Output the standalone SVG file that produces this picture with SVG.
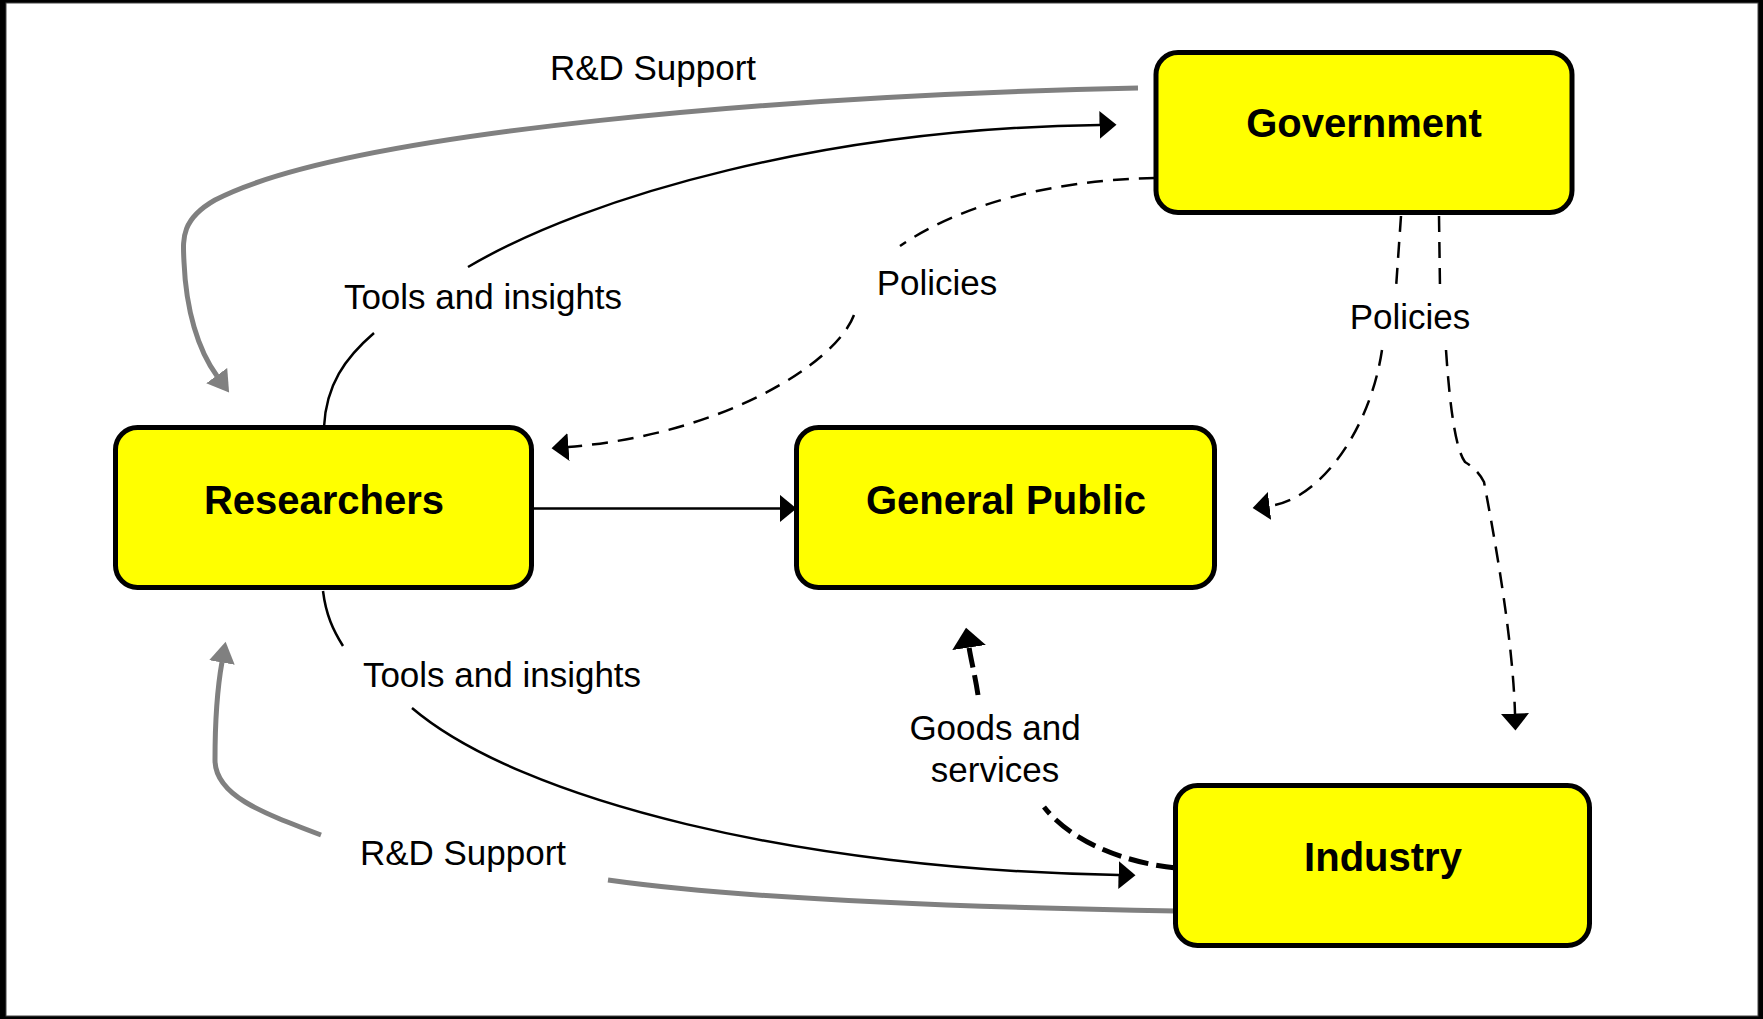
<svg xmlns="http://www.w3.org/2000/svg" width="1763" height="1019" viewBox="0 0 1763 1019">
<style>
.frame{fill:#ffffff;stroke:#444444;stroke-width:1}
.node rect{fill:#ffff00;stroke:#000000;stroke-width:5}
.nlbl{font-family:"Liberation Sans",Arial,Helvetica,sans-serif;font-size:40px;font-weight:bold;text-anchor:middle;fill:#000000}
.elbl{font-family:"Liberation Sans",Arial,Helvetica,sans-serif;font-size:35px;text-anchor:middle;fill:#000000}
.ln{fill:none;stroke:#000000;stroke-width:2.5}
.gr{fill:none;stroke:#808080;stroke-width:5}
.dsh{stroke-dasharray:16 10}
.thk{fill:none;stroke:#000000;stroke-width:5;stroke-dasharray:20 8}
</style>
<defs>
<marker id="arrB" markerUnits="userSpaceOnUse" markerWidth="18" markerHeight="28" viewBox="0 0 18 28" refX="0.5" refY="14" orient="auto"><path d="M0,0 L17,14 L0,28 z" fill="#000000"/></marker>
<marker id="arrG" markerUnits="userSpaceOnUse" markerWidth="22" markerHeight="26" viewBox="0 0 22 26" refX="0.5" refY="13" orient="auto"><path d="M0,0 L21,13 L0,26 z" fill="#808080"/></marker>
<marker id="arrT" markerUnits="userSpaceOnUse" markerWidth="22" markerHeight="34" viewBox="0 0 22 34" refX="0.5" refY="17" orient="auto"><path d="M0,0 L20,17 L0,34 z" fill="#000000"/></marker>
</defs>
<rect x="0" y="0" width="1763" height="1019" fill="#000000"/>
<rect class="frame" x="6" y="3" width="1752" height="1013"/>

<g id="connectors">
  <g id="rd-gov-researchers">
    <path class="gr" d="M1138,88 C800,95 350,130 215,200 C180,220 183,240 184,262 C186,310 198,350 217,376" marker-end="url(#arrG)"/>
    <text class="elbl" x="653" y="80">R&amp;D Support</text>
  </g>
  <g id="tools-researchers-gov">
    <path class="ln" d="M324,427 C326,385 345,358 374,333"/>
    <path class="ln" d="M468,267 C590,195 830,128 1100,125" marker-end="url(#arrB)"/>
    <text class="elbl" x="483" y="309">Tools and insights</text>
  </g>
  <g id="policies-gov-researchers">
    <path class="ln dsh" d="M1155,178 C1050,180 960,205 900,246"/>
    <path class="ln dsh" d="M854,315 C835,365 720,435 568,447" marker-end="url(#arrB)"/>
    <text class="elbl" x="937" y="295">Policies</text>
  </g>
  <g id="policies-gov-public">
    <path class="ln dsh" d="M1401,216 L1396,288"/>
    <path class="ln dsh" d="M1382,350 C1370,430 1320,500 1269,506" marker-end="url(#arrB)"/>
  </g>
  <g id="policies-gov-industry">
    <path class="ln dsh" d="M1439,216 L1440,288"/>
    <path class="ln dsh" d="M1446,350 C1450,410 1456,450 1465,462 Q1478,470 1484,482 C1495,540 1513,640 1515,714" marker-end="url(#arrB)"/>
    <text class="elbl" x="1410" y="329">Policies</text>
  </g>
  <g id="researchers-public">
    <path class="ln" d="M533,508.5 L780,508.5" marker-end="url(#arrB)"/>
  </g>
  <g id="tools-researchers-industry">
    <path class="ln" d="M323,591 C326,615 333,630 343,646"/>
    <path class="ln" d="M412,708 C520,800 800,870 1119,875" marker-end="url(#arrB)"/>
    <text class="elbl" x="502" y="687">Tools and insights</text>
  </g>
  <g id="rd-industry-researchers">
    <path class="gr" d="M1176,911 C1000,908 750,900 608,880"/>
    <path class="gr" d="M321,835 C260,812 215,795 215,760 C215,720 217,690 222,662" marker-end="url(#arrG)"/>
    <text class="elbl" x="463" y="865">R&amp;D Support</text>
  </g>
  <g id="goods-industry-public">
    <path class="thk" d="M1176,868 C1120,862 1070,840 1044,807"/>
    <path class="thk" d="M978,695 C975,675 971,660 969,647" marker-end="url(#arrT)"/>
    <text class="elbl" x="995" y="740">Goods and</text>
    <text class="elbl" x="995" y="782">services</text>
  </g>
</g>

<g id="node-government" class="node">
  <rect x="1156" y="52.5" width="416" height="160" rx="22" ry="22"/>
  <text class="nlbl" x="1364" y="137">Government</text>
</g>
<g id="node-researchers" class="node">
  <rect x="115.5" y="427.5" width="416" height="160" rx="22" ry="22"/>
  <text class="nlbl" x="324" y="514">Researchers</text>
</g>
<g id="node-general-public" class="node">
  <rect x="796.5" y="427.5" width="418" height="160" rx="22" ry="22"/>
  <text class="nlbl" x="1006" y="514">General Public</text>
</g>
<g id="node-industry" class="node">
  <rect x="1175.5" y="785.5" width="414" height="160" rx="22" ry="22"/>
  <text class="nlbl" x="1383" y="871">Industry</text>
</g>
</svg>
